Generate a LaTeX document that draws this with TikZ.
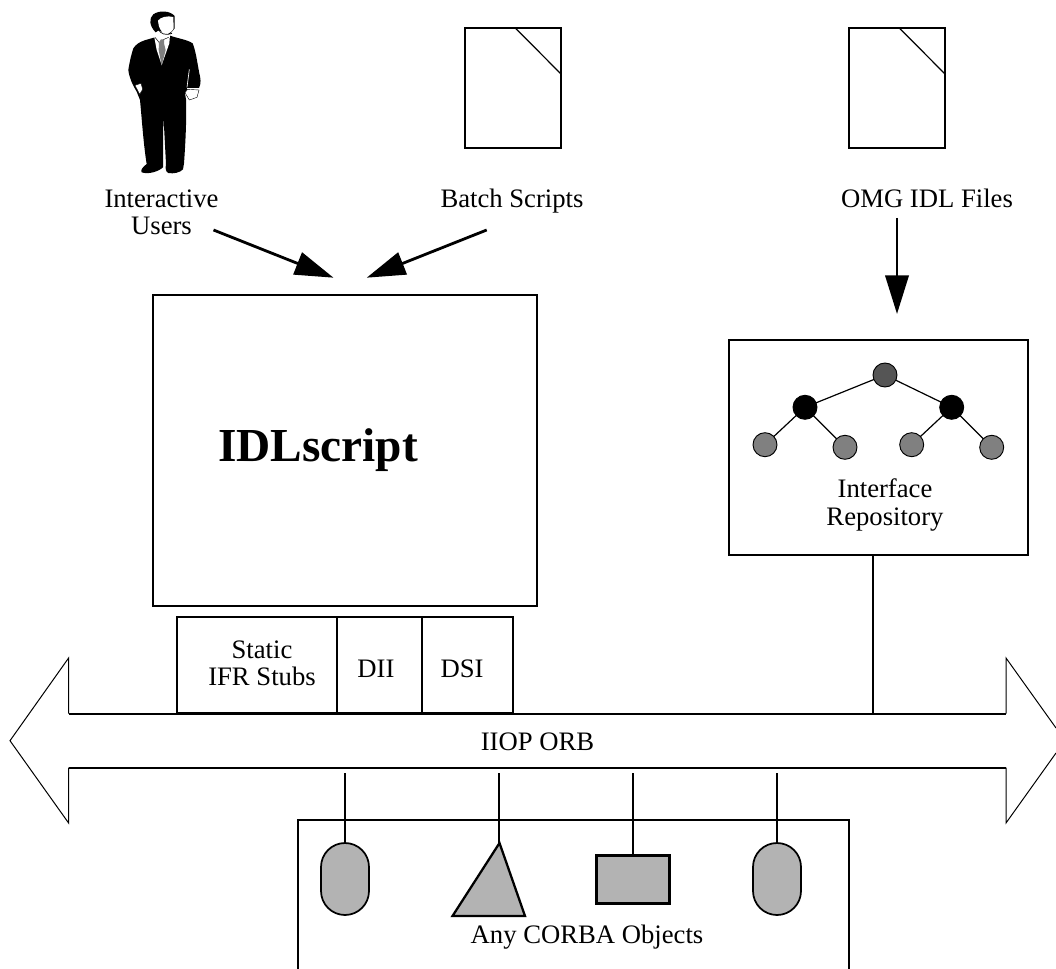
\documentclass[tikz,border=0pt]{standalone}
\usepackage{fontspec}
\setmainfont{Liberation Serif}
\usetikzlibrary{arrows.meta}
\definecolor{objgray}{HTML}{B3B3B3}
\definecolor{leafgray}{HTML}{808080}
\definecolor{rootgray}{HTML}{555555}
\tikzset{
  px/.style={x=0.75pt,y=-0.75pt},
  box/.style={draw,rectangle,inner sep=0pt,outer sep=0pt,line width=1.5pt,fill=none},
  lbl/.style={inner sep=0pt,outer sep=0pt,anchor=base,align=center,font=\fontsize{20pt}{20pt}\selectfont},
  wire/.style={line width=1.5pt},
  thinl/.style={line width=0.9pt},
  capsule/.style={draw,rectangle,rounded corners=18pt,inner sep=0pt,outer sep=0pt,minimum width=36pt,minimum height=54pt,fill=objgray,line width=1.3pt},
  tree/.style={draw,circle,inner sep=0pt,outer sep=0pt,minimum size=18pt,line width=0.7pt},
  bigarrow/.style={line width=2.1pt,-{Triangle[length=29pt,width=17.5pt]}},
}
\begin{document}
\begin{tikzpicture}[px]
\useasboundingbox (0,0) rectangle (1056,969);
% person
\begin{scope}[shift={(90,0)},x=0.25pt,y=-0.25pt]
  \fill[black] (195,112) .. controls (170,120) and (145,122) .. (130,145)
    .. controls (122,170) and (118,190) .. (115,210)
    .. controls (118,235) and (128,255) .. (140,275)
    -- (150,300) .. controls (155,350) and (160,430) .. (170,492)
    .. controls (160,500) and (150,510) .. (155,517)
    .. controls (175,524) and (205,515) .. (219,502)
    -- (220,340) -- (228,492) .. controls (226,505) and (226,515) .. (235,519)
    .. controls (250,522) and (270,518) .. (279,508)
    -- (282,490) .. controls (287,420) and (290,350) .. (288,298)
    -- (285,280) -- (293,264) -- (327,264)
    .. controls (334,250) and (332,235) .. (328,220)
    .. controls (322,190) and (318,155) .. (308,130)
    .. controls (290,118) and (260,115) .. (238,106) -- cycle;
  % hair
  \fill[black] (197,97) .. controls (178,78) and (176,55) .. (190,43)
    .. controls (208,30) and (240,32) .. (254,48)
    -- (254,85) -- (240,102) -- (205,92) -- cycle;
  % face
  \fill[white] (204,62) .. controls (210,52) and (232,46) .. (250,51)
    -- (251,85) .. controls (246,96) and (236,102) .. (225,103)
    .. controls (215,97) and (208,85) .. (206,75) -- cycle;
  % neck, collar and shirt
  \fill[white] (193,112) -- (205,92) -- (225,105) -- (240,104) -- (238,130) -- (215,195) -- (200,150) -- cycle;
  \draw[black,line width=0.5pt] (206,90) .. controls (212,100) and (225,108) .. (246,100);
  \draw[black,line width=0.35pt] (195,112) -- (208,128) -- (222,118) -- (236,112);
  % tie
  \fill[leafgray] (207,127) -- (213,118) -- (222,118) -- (222,130) -- (227,150) -- (215,197) -- (206,150) -- cycle;
  % gap between sleeve and jacket
  \draw[white,line width=0.5pt] (298,208) -- (291,262);
  % left hand
  \filldraw[fill=white,draw=black,line width=0.3pt] (135,256) -- (153,250) -- (158,268) -- (149,283) -- cycle;
  % right hand and cuff
  \filldraw[fill=white,draw=black,line width=0.3pt] (285,278) -- (293,268) -- (327,270) -- (321,292) -- (298,300) -- cycle;
  \draw[white,line width=0.6pt] (292,264) -- (330,264);
\end{scope}
% documents
\coordinate (docAcut1) at (515,27.7);
\coordinate (docAcut2) at (561,74);
\node[box,minimum width=72pt,minimum height=90pt] (docA) at (513,87.7) {};
\draw[thinl] (docAcut1) -- (docAcut2);
\node[box,minimum width=72pt,minimum height=90pt] (docB) at (897,87.7) {};
\coordinate (docBcut1) at (899,27.7);
\coordinate (docBcut2) at (945,74);
\draw[thinl] (docBcut1) -- (docBcut2);
% top labels
\node[lbl] (users) at (161.5,208) {Interactive};
\node[lbl] (users2) at (161.5,234.5) {Users};
\node[lbl] (batch) at (512,208) {Batch Scripts};
\node[lbl] (omg) at (927,208) {OMG IDL Files};
% input arrows
\coordinate (a1s) at (213.5,230);
\coordinate (a1e) at (333.5,277.7);
\coordinate (a2s) at (486.7,230);
\coordinate (a2e) at (366.7,277.7);
\coordinate (a3s) at (897,218);
\coordinate (a3e) at (897,314);
\draw[bigarrow] (a1s) -- (a1e);
\draw[bigarrow] (a2s) -- (a2e);
\draw[bigarrow] (a3s) -- (a3e);
% IDLscript
\node[box,minimum width=288pt,minimum height=233.5pt] (idl) at (345,450.7) {};
\node[inner sep=0pt,outer sep=0pt,anchor=base,font=\fontsize{35.5pt}{35.5pt}\selectfont\bfseries] (idltxt) at (318,462) {IDLscript};
% Interface repository
\node[box,minimum width=224.5pt,minimum height=161.5pt] (ifr) at (878.5,447.8) {};
\node[tree,fill=rootgray] (root) at (885,375) {};
\node[tree,fill=black] (m1) at (805,407.3) {};
\node[tree,fill=black] (m2) at (951.7,407.3) {};
\node[tree,fill=leafgray] (l1) at (765,444.7) {};
\node[tree,fill=leafgray] (l2) at (845,447.3) {};
\node[tree,fill=leafgray] (l3) at (911.7,444.7) {};
\node[tree,fill=leafgray] (l4) at (991.7,447.3) {};
\draw[thinl] (root) -- (m1);
\draw[thinl] (root) -- (m2);
\draw[thinl] (m1) -- (l1);
\draw[thinl] (m1) -- (l2);
\draw[thinl] (m2) -- (l3);
\draw[thinl] (m2) -- (l4);
\node[lbl] (ifr1) at (885,498) {Interface};
\node[lbl] (ifr2) at (885,525) {Repository};
% stub boxes
\node[box,minimum width=120pt,minimum height=71.5pt] (stub) at (257,665) {};
\node[box,minimum width=63.5pt,minimum height=71.5pt] (dii) at (379.5,665) {};
\node[box,minimum width=68.5pt,minimum height=71.5pt] (dsi) at (467.5,665) {};
\node[lbl] (stub1) at (262,658) {Static};
\node[lbl] (stub2) at (262,685) {IFR Stubs};
\node[lbl] (diit) at (376,677) {DII};
\node[lbl] (dsit) at (462,677) {DSI};
% ORB arrow
\coordinate (o1) at (1006,713.7);
\coordinate (o2) at (1006,658);
\coordinate (o3) at (1056,728);
\coordinate (o4) at (1056,753);
\coordinate (o5) at (1006,823);
\coordinate (o6) at (1006,767.7);
\coordinate (o7) at (68.6,767.7);
\coordinate (o8) at (68.6,823);
\coordinate (o9) at (10,740.7);
\coordinate (o10) at (68.6,658);
\coordinate (o11) at (68.6,713.7);
\draw[line width=1.5pt] (o11) -- (o1);
\draw[line width=1.5pt] (o7) -- (o6);
\draw[line width=0.75pt,line join=miter] (o1) -- (o2) -- (o3);
\draw[line width=0.75pt,line join=miter] (o4) -- (o5) -- (o6);
\draw[line width=0.75pt,line join=miter] (o7) -- (o8) -- (o9) -- (o10) -- (o11);
\node[lbl] (orb) at (537.5,750) {IIOP ORB};
\coordinate (ifrbus) at (873,713.7);
\draw[wire] (ifr.south -| ifrbus) -- (ifrbus);
% objects
\coordinate (cb1) at (298,969);
\coordinate (cb2) at (298,820);
\coordinate (cb3) at (849,820);
\coordinate (cb4) at (849,969);
\draw[line width=1.5pt] (cb1) -- (cb2) -- (cb3) -- (cb4);
\node[capsule] (ob1) at (345,879) {};
\node[capsule] (ob4) at (777,879) {};
\node[draw,rectangle,inner sep=0pt,outer sep=0pt,minimum width=54.5pt,minimum height=36.5pt,fill=objgray,line width=2.2pt] (ob3) at (633,879.5) {};
\coordinate (t1) at (499.5,843);
\coordinate (t2) at (525,916);
\coordinate (t3) at (452.5,916);
\filldraw[fill=objgray,line width=1.7pt,line join=miter] (t1) -- (t2) -- (t3) -- cycle;
\coordinate (b1) at (345,773);
\coordinate (b2) at (499,773);
\coordinate (b3) at (633,773);
\coordinate (b4) at (777,773);
\draw[wire] (b1) -- (ob1.north);
\draw[wire] (b2) -- (b2 |- t1);
\draw[wire] (b3) -- (ob3.north);
\draw[wire] (b4) -- (ob4.north);
\node[lbl] (any) at (587,943) {Any CORBA Objects};
\end{tikzpicture}
\end{document}
